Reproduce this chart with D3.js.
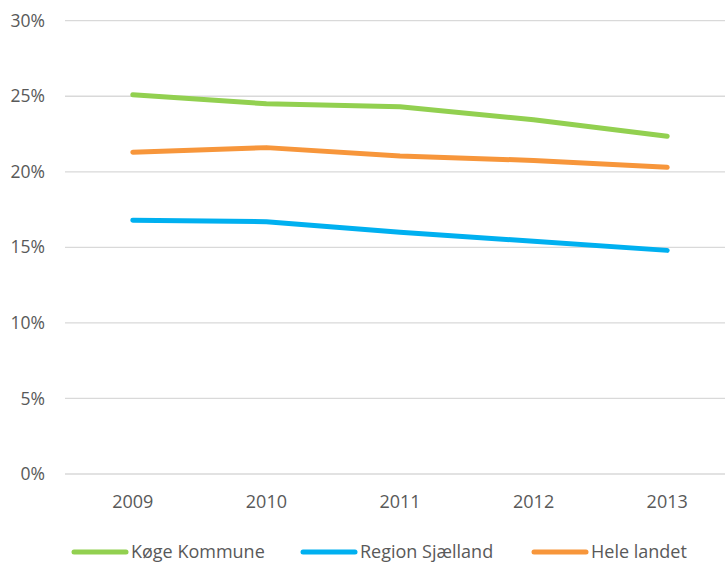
<!DOCTYPE html>
<html>
<head>
<meta charset="utf-8">
<script src="https://cdn.jsdelivr.net/npm/d3@7"></script>
<style>
  body { margin: 0; background: #fff; }
  text { font-family: "Open Sans", sans-serif; fill: #595959; }
</style>
</head>
<body>
<svg id="chart" width="725" height="563"></svg>
<script>
const years = ["2009", "2010", "2011", "2012", "2013"];
const koge = [25.1, 24.5, 24.3, 23.45, 22.35];
const region = [16.8, 16.7, 16.0, 15.4, 14.8];
const hele = [21.3, 21.6, 21.05, 20.75, 20.3];
const yTicks = [0, 5, 10, 15, 20, 25, 30];

const series = [
  { name: "Køge Kommune", values: koge, color: "#92D050" },
  { name: "Region Sjælland", values: region, color: "#00B0F0" },
  { name: "Hele landet", values: hele, color: "#F7963B" },
];

var svg = d3.select("#chart");

var x = d3.scaleBand().domain(years).range([66, 734]);
var y = d3.scaleLinear().domain([0, 30]).range([474, 20.7]);

// gridlines
svg.append("g")
  .selectAll("line")
  .data(yTicks)
  .enter()
  .append("line")
  .attr("x1", 65)
  .attr("x2", 725)
  .attr("y1", (d) => y(d))
  .attr("y2", (d) => y(d))
  .attr("stroke", "#d9d9d9")
  .attr("stroke-width", 1.3);

// y labels
svg.append("g")
  .selectAll("text")
  .data(yTicks)
  .enter()
  .append("text")
  .attr("x", 45)
  .attr("y", (d) => y(d))
  .attr("dy", "0.35em")
  .attr("text-anchor", "end")
  .style("font-size", "17.5px")
  .text((d) => d + "%");

// x labels
svg.append("g")
  .selectAll("text")
  .data(years)
  .enter()
  .append("text")
  .attr("x", (d) => x(d) + x.bandwidth() / 2)
  .attr("y", 508)
  .attr("text-anchor", "middle")
  .style("font-size", "18px")
  .text((d) => d);

var line = d3
  .line()
  .x((d, i) => x(years[i]) + x.bandwidth() / 2)
  .y((d) => y(d));

svg.append("g")
  .selectAll("path")
  .data(series)
  .enter()
  .append("path")
  .attr("d", (s) => line(s.values))
  .attr("fill", "none")
  .attr("stroke", (s) => s.color)
  .attr("stroke-width", 5)
  .attr("stroke-linecap", "round")
  .attr("stroke-linejoin", "round");

// legend
var legX = [72, 301, 532];
var leg = svg
  .append("g")
  .selectAll("g")
  .data(series)
  .enter()
  .append("g")
  .attr("transform", (s, i) => "translate(" + legX[i] + ",552)");

leg
  .append("line")
  .attr("x1", 2)
  .attr("x2", 54)
  .attr("stroke", (s) => s.color)
  .attr("stroke-width", 5)
  .attr("stroke-linecap", "round");

leg
  .append("text")
  .attr("x", 59)
  .attr("dy", "0.35em")
  .style("font-size", "18px")
  .text((s) => s.name);
</script>
</body>
</html>
